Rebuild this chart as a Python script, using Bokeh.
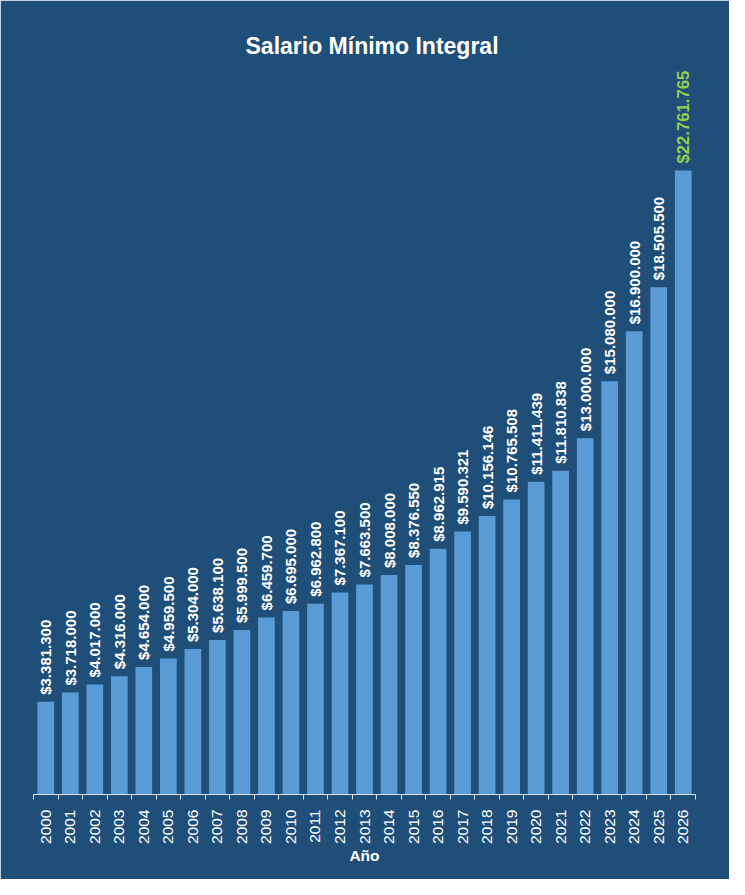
import math
from bokeh.plotting import figure
from bokeh.models import ColumnDataSource, FixedTicker, Range1d
from bokeh.core.properties import value
from bokeh.embed import file_html
from bokeh.resources import INLINE

years = [str(y) for y in range(2000, 2027)]
salario = [3381300, 3718000, 4017000, 4316000, 4654000, 4959500, 5304000,
           5638100, 5999500, 6459700, 6695000, 6962800, 7367100, 7663500,
           8008000, 8376550, 8962915, 9590321, 10156146, 10765508, 11411439,
           11810838, 13000000, 15080000, 16900000, 18505500, 22761765]

BG = "#1f4e79"
BAR = "#5b9bd5"
GREEN = "#92d050"
AXIS = "#d6e4f0"
FONT = "Liberation Sans"

idx = list(range(len(years)))
labels = ["$" + f"{v:,}".replace(",", ".") for v in salario]

src_main = ColumnDataSource(dict(x=idx[:-1], y=salario[:-1], label=labels[:-1]))
src_last = ColumnDataSource(dict(x=idx[-1:], y=salario[-1:], label=labels[-1:]))
src_bars = ColumnDataSource(dict(x=idx, y=salario))

p = figure(width=729, height=879, output_backend="svg", toolbar_location=None,
           x_range=Range1d(-0.5, len(years) - 0.5), y_range=Range1d(0, 26.85e6),
           min_border_left=33, min_border_right=34, min_border_top=58, min_border_bottom=85)

p.background_fill_color = BG
p.border_fill_color = BG
p.outline_line_color = BG
p.outline_line_width = 3
p.grid.visible = False
p.yaxis.visible = False

p.title.text = "Salario Mínimo Integral"
p.title.align = "left"
p.title.offset = 212
p.title.text_color = "white"
p.title.text_font = FONT
p.title.text_font_size = "23px"
p.title.text_font_style = "bold"
p.title.standoff = 0

p.vbar(x="x", top="y", width=0.68, source=src_bars, fill_color=BAR, line_color=None)

p.text(x="x", y="y", text="label", source=src_main, angle=math.pi / 2,
       text_align="left", text_baseline="middle", y_offset=-7,
       text_color="white", text_font=value(FONT), text_font_size="15px",
       text_font_style="bold")
p.text(x="x", y="y", text="label", source=src_last, angle=math.pi / 2,
       text_align="left", text_baseline="middle", y_offset=-7,
       text_color=GREEN, text_font=value(FONT), text_font_size="16.7px",
       text_font_style="bold")

ax = p.xaxis[0]
ax.ticker = FixedTicker(ticks=idx, minor_ticks=[i - 0.5 for i in range(len(years) + 1)])
ax.major_label_overrides = {i: y for i, y in zip(idx, years)}
ax.major_label_orientation = math.pi / 2
ax.major_tick_line_color = None
ax.major_tick_out = 0
ax.major_tick_in = 0
ax.minor_tick_line_color = AXIS
ax.minor_tick_out = 5
ax.minor_tick_in = 0
ax.axis_line_color = AXIS
ax.major_label_standoff = 10
ax.major_label_text_color = "white"
ax.major_label_text_font = FONT
ax.major_label_text_font_size = "15.5px"
ax.axis_label = "Año"
ax.axis_label_text_color = "white"
ax.axis_label_text_font = FONT
ax.axis_label_text_font_size = "15.5px"
ax.axis_label_text_font_style = "bold"
ax.axis_label_standoff = 0

html = file_html(p, INLINE)
html = html.replace("<body>", '<body style="background-color:%s;">' % BG, 1)
open("out.html", "w").write(html)
